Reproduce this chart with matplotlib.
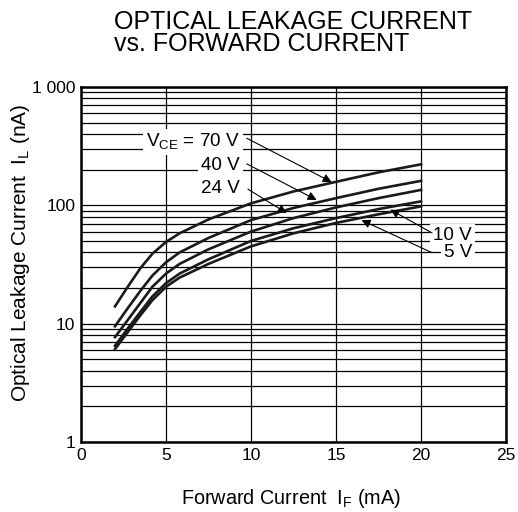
import matplotlib
matplotlib.use('Agg')
import matplotlib.pyplot as plt

plt.rcParams['font.family'] = ['Liberation Sans', 'DejaVu Sans']
plt.rcParams['mathtext.fontset'] = 'custom'
plt.rcParams['mathtext.rm'] = 'Liberation Sans'

# forward current (mA) and leakage current (nA)
i_f = [2, 2.7, 3.5, 4.2, 5, 5.8, 7.5, 10, 12.5, 15, 17.5, 20]
il_70v = [14, 20, 29.5, 39, 49, 58, 76, 104, 131, 158, 190, 222]
il_40v = [9.5, 13.2, 19, 25.5, 33, 40, 53, 75, 95, 115, 138, 161]
il_24v = [7.7, 10.5, 15, 20.5, 26.5, 32, 42.5, 60, 78, 96, 115, 135]
il_10v = [6.5, 8.9, 12.6, 17, 22, 26.5, 35, 50, 64, 78, 93, 108]
il_5v = [6.1, 8.3, 11.8, 15.8, 20.5, 24.5, 32, 45, 58, 71, 84, 98]

x_ticks = [0, 5, 10, 15, 20, 25]
y_ticks = [1, 10, 100, 1000]
y_labels = ['1', '10', '100', '1 000']

fig = plt.figure(figsize=(5.18, 5.12), dpi=100)
ax = fig.add_axes([81 / 518, 1 - 442 / 512, 425 / 518, 355 / 512])

for y in [il_70v, il_40v, il_24v, il_10v, il_5v]:
    ax.plot(i_f, y, color='#1a1a1a', lw=1.9, zorder=3, solid_joinstyle='round')

ax.set_yscale('log')
ax.set_xlim(0, 25)
ax.set_ylim(1, 1000)
ax.set_xticks(x_ticks)
ax.set_yticks(y_ticks)
ax.set_yticklabels(y_labels)
ax.yaxis.set_minor_formatter(matplotlib.ticker.NullFormatter())
ax.grid(True, which='both', axis='y', color='black', lw=0.9)
ax.grid(True, which='major', axis='x', color='black', lw=0.9)
ax.tick_params(which='both', direction='in', length=0, labelsize=12.5, pad=4)
for s in ax.spines.values():
    s.set_linewidth(1.8)

arrow = dict(arrowstyle='-|>', color='black', lw=0.8, mutation_scale=13,
             shrinkA=0, shrinkB=0)
box = dict(fc='white', ec='none', pad=2)
fs = 13.6

# left labels
ax.text(9.35, 345, r'V$_\mathregular{CE}$ = 70 V', ha='right', va='center',
        fontsize=fs, bbox=box, zorder=4)
ax.text(9.35, 215, '40 V', ha='right', va='center', fontsize=fs, bbox=box, zorder=4)
ax.text(9.35, 140, '24 V', ha='right', va='center', fontsize=fs, bbox=box, zorder=4)
ax.annotate('', xy=(14.75, 157), xytext=(9.75, 369), arrowprops=arrow, zorder=5)
ax.annotate('', xy=(13.86, 111), xytext=(9.75, 224), arrowprops=arrow, zorder=5)
ax.annotate('', xy=(12.1, 86), xytext=(9.82, 137), arrowprops=arrow, zorder=5)

# right labels
ax.text(23.0, 55.5, '10 V', ha='right', va='center', fontsize=fs, bbox=box, zorder=4)
ax.text(23.0, 39.8, '5 V', ha='right', va='center', fontsize=fs, bbox=box, zorder=4)
ax.annotate('', xy=(18.2, 92), xytext=(20.65, 58.4), arrowprops=arrow, zorder=5)
ax.annotate('', xy=(16.5, 75), xytext=(20.65, 39.8), arrowprops=arrow, zorder=5)

fig.text(114 / 518, 1 - 29 / 512, 'OPTICAL LEAKAGE CURRENT', fontsize=18,
         ha='left', va='baseline')
fig.text(114 / 518, 1 - 51 / 512, 'vs. FORWARD CURRENT', fontsize=18,
         ha='left', va='baseline')
fig.text(291 / 518, 1 - 498 / 512, r'Forward Current  I$_\mathregular{F}$ (mA)',
         fontsize=14.3, ha='center', va='center')
fig.text(21 / 518, 1 - 253 / 512, r'Optical Leakage Current  I$_\mathregular{L}$ (nA)',
         fontsize=15, ha='center', va='center', rotation=90)

fig.savefig('out.png', dpi=100)
